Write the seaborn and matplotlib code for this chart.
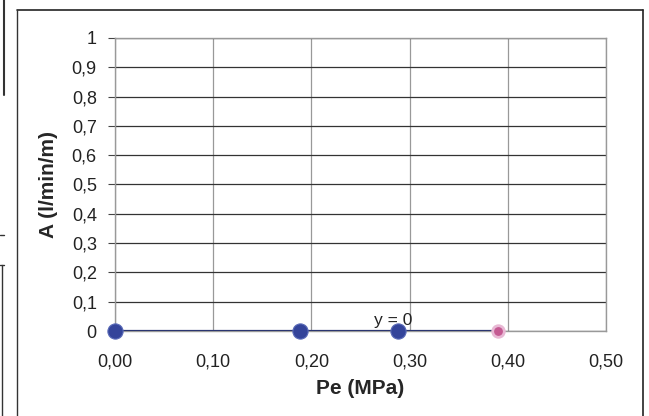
import numpy as np
import pandas as pd
import seaborn as sns
import matplotlib.pyplot as plt
from matplotlib.lines import Line2D

# data
pe = [0.00, 0.188, 0.288]
a_vals = [0.0, 0.0, 0.0]
pe_pink = [0.39]
a_pink = [0.0]
trend_x = [0.00, 0.39]
trend_y = [0.0, 0.0]
x_ticks = [0.0, 0.1, 0.2, 0.3, 0.4, 0.5]
y_ticks = [0, 0.1, 0.2, 0.3, 0.4, 0.5, 0.6, 0.7, 0.8, 0.9, 1.0]

sns.set_style("white")
plt.rcParams['font.family'] = ['Liberation Sans', 'DejaVu Sans']

fig = plt.figure(figsize=(6.49, 4.16), dpi=100)
ax = fig.add_axes([0.177, 0.204, 0.757, 0.705])

df = pd.DataFrame({'Pe': pe, 'A': a_vals})
sns.lineplot(x=trend_x, y=trend_y, ax=ax, color='#2a3570', linewidth=1.6, zorder=3)
sns.scatterplot(data=df, x='Pe', y='A', ax=ax, color='#34449a', s=120,
                edgecolor='#5a6bb8', linewidth=0.8, zorder=4, clip_on=False)
sns.scatterplot(x=pe_pink, y=a_pink, ax=ax, color='#c45a92', s=70,
                edgecolor='#e8b8d4', linewidth=2, zorder=4, clip_on=False)

ax.set_xlim(0, 0.5)
ax.set_ylim(0, 1)
ax.set_xticks(x_ticks)
ax.set_yticks(y_ticks)
ax.set_xticklabels([f"{v:.2f}".replace('.', ',') for v in x_ticks], fontsize=13, color='#222222')
ax.set_yticklabels(['0', '0,1', '0,2', '0,3', '0,4', '0,5', '0,6', '0,7', '0,8', '0,9', '1'],
                   fontsize=13, color='#222222')
ax.tick_params(axis='y', length=5, width=0.8, color='#444444', pad=8, direction='out', left=True)
ax.tick_params(axis='x', length=0, pad=16)

ax.yaxis.grid(True, color='#333333', linewidth=0.9)
ax.xaxis.grid(True, color='#999999', linewidth=0.9)
ax.set_axisbelow(True)
for s in ax.spines.values():
    s.set_color('#999999')
    s.set_linewidth(1.0)
    s.set_visible(True)

ax.set_xlabel("Pe (MPa)", fontsize=15, fontweight='bold', labelpad=6)
ax.set_ylabel("A (l/min/m)", fontsize=15, fontweight='bold', labelpad=10)
ax.text(0.283, 0.012, "y = 0", fontsize=12.5, ha='center', va='bottom', color='#222222', zorder=2)

# outer chart border and fragments of neighbouring chart
fig.add_artist(Line2D([17/649, 643/649], [1 - 10/416, 1 - 10/416], color='#222222', lw=1.2))
fig.add_artist(Line2D([17/649, 17/649], [0, 1 - 10/416], color='#333333', lw=1.0))
fig.add_artist(Line2D([643/649, 643/649], [0, 1 - 10/416], color='#222222', lw=1.2))
fig.add_artist(Line2D([4/649, 4/649], [1 - 95/416, 1.0], color='#333333', lw=1.5))
fig.add_artist(Line2D([0, 4/649], [1 - 235/416, 1 - 235/416], color='#333333', lw=1.0))
fig.add_artist(Line2D([0, 4/649], [1 - 265/416, 1 - 265/416], color='#333333', lw=1.0))
fig.add_artist(Line2D([2/649, 2/649], [0, 1 - 265/416], color='#333333', lw=1.0))

fig.savefig("out.png", dpi=100)
